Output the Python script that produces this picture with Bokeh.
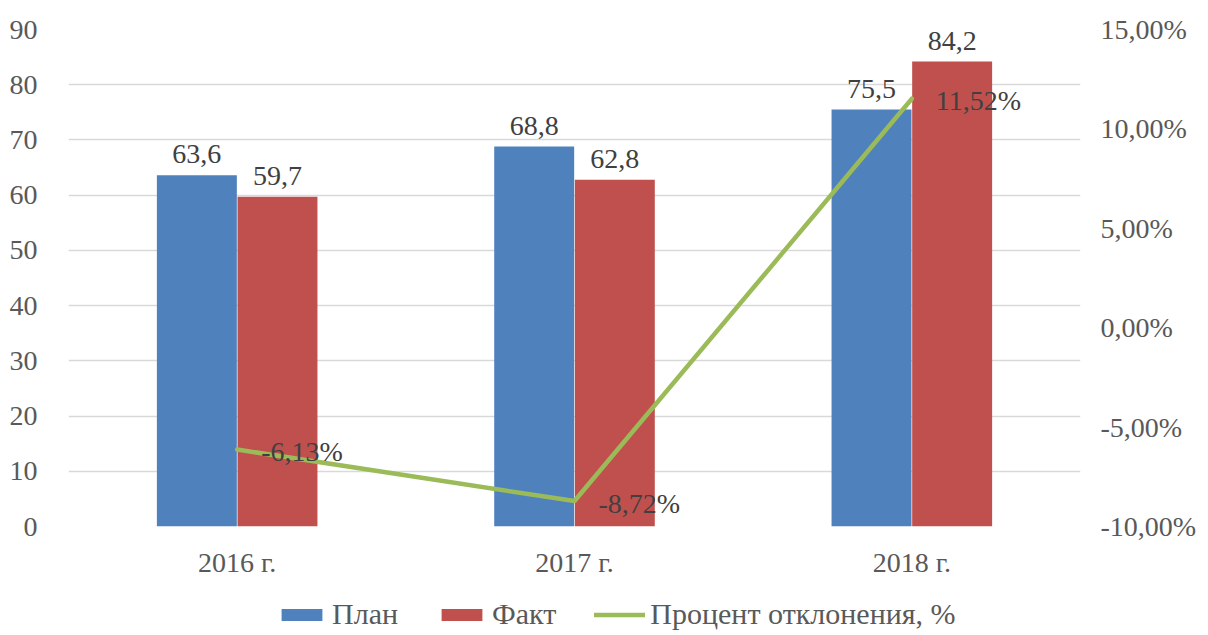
from bokeh.plotting import figure
from bokeh.models import (ColumnDataSource, FactorRange, Range1d, LinearAxis,
                          FixedTicker, CustomJSTickFormatter, Legend, LegendItem)
from bokeh.layouts import column
from bokeh.transform import dodge
from bokeh.core.properties import value
from bokeh.embed import file_html
from bokeh.resources import INLINE

categories = ["2016 г.", "2017 г.", "2018 г."]
plan = [63.6, 68.8, 75.5]
fact = [59.7, 62.8, 84.2]
deviation = [-6.13, -8.72, 11.52]
plan_labels = ["63,6", "68,8", "75,5"]
fact_labels = ["59,7", "62,8", "84,2"]
dev_labels = ["-6,13%", "-8,72%", "11,52%"]
left_ticks = [0, 10, 20, 30, 40, 50, 60, 70, 80, 90]
right_ticks = [-10, -5, 0, 5, 10, 15]
series_names = ["План", "Факт", "Процент отклонения, %"]

FONT = "Liberation Serif"
FS = "28px"
TICK_COLOR = "#595959"
LABEL_COLOR = "#404040"
BLUE = "#4F81BD"
RED = "#C0504D"
GREEN = "#9BBB59"
W = 1200

src = ColumnDataSource(dict(cat=categories, plan=plan, fact=fact, dev=deviation,
                            plan_lab=plan_labels, fact_lab=fact_labels, dev_lab=dev_labels))

p = figure(x_range=FactorRange(*categories), y_range=Range1d(0, 90),
           width=W, height=580, output_backend="svg", toolbar_location=None,
           min_border_left=68, min_border_top=29, min_border_right=120,
           min_border_bottom=53)
p.extra_y_ranges = {"pct": Range1d(-10, 15)}
p.outline_line_color = None
p.background_fill_color = "white"
p.border_fill_color = "white"

BW = 0.237
OFF = 0.1195
p.vbar(x=dodge("cat", -OFF, range=p.x_range), top="plan", width=BW,
       source=src, fill_color=BLUE, line_color=None)
p.vbar(x=dodge("cat", OFF, range=p.x_range), top="fact", width=BW,
       source=src, fill_color=RED, line_color=None)
p.line(x="cat", y="dev", source=src, y_range_name="pct",
       line_color=GREEN, line_width=4.5, line_cap="round", line_join="round")

p.text(x=dodge("cat", -OFF, range=p.x_range), y="plan", text="plan_lab", source=src,
       text_align="center", text_baseline="bottom", y_offset=-12,
       text_font=value(FONT), text_font_size=FS, text_color=LABEL_COLOR)
p.text(x=dodge("cat", OFF, range=p.x_range), y="fact", text="fact_lab", source=src,
       text_align="center", text_baseline="bottom", y_offset=-12,
       text_font=value(FONT), text_font_size=FS, text_color=LABEL_COLOR)
p.text(x="cat", y="dev", text="dev_lab", source=src, y_range_name="pct",
       text_align="left", text_baseline="middle", x_offset=24, y_offset=2,
       text_font=value(FONT), text_font_size=FS, text_color=LABEL_COLOR)

# left axis
ya = p.yaxis[0]
ya.ticker = FixedTicker(ticks=left_ticks)
ya.axis_line_color = None
ya.major_tick_line_color = None
ya.minor_tick_line_color = None
ya.major_label_standoff = 25
ya.major_label_text_font = FONT
ya.major_label_text_font_size = FS
ya.major_label_text_color = TICK_COLOR

# right axis
ra = LinearAxis(y_range_name="pct", ticker=FixedTicker(ticks=right_ticks),
                formatter=CustomJSTickFormatter(code="return tick.toFixed(2).replace('.', ',') + '%';"))
ra.axis_line_color = None
ra.major_tick_line_color = None
ra.minor_tick_line_color = None
ra.major_label_standoff = 14
ra.major_label_text_font = FONT
ra.major_label_text_font_size = FS
ra.major_label_text_color = TICK_COLOR
p.add_layout(ra, "right")

# x axis
xa = p.xaxis[0]
xa.axis_line_color = None
xa.major_tick_line_color = None
xa.minor_tick_line_color = None
xa.major_label_standoff = 14
xa.major_label_text_font = FONT
xa.major_label_text_font_size = FS
xa.major_label_text_color = TICK_COLOR

p.xgrid.grid_line_color = None
p.ygrid.grid_line_color = "#D9D9D9"
p.ygrid.grid_line_width = 1.5

# legend strip (key renderers are hidden; only the legend is shown)
lf = figure(width=W, height=51, x_range=FactorRange(*categories), y_range=Range1d(0, 1),
            output_backend="svg", toolbar_location=None, min_border=0)
lf.axis.visible = False
lf.grid.grid_line_color = None
lf.outline_line_color = None
k1 = lf.vbar(x="cat", top="plan", width=0.2, source=src, fill_color=BLUE, line_color=None, visible=False)
k2 = lf.vbar(x="cat", top="fact", width=0.2, source=src, fill_color=RED, line_color=None, visible=False)
k3 = lf.line(x="cat", y="dev", source=src, line_color=GREEN, line_width=4.5, line_cap="round", visible=False)

legend = Legend(items=[LegendItem(label=series_names[0], renderers=[k1]),
                       LegendItem(label=series_names[1], renderers=[k2]),
                       LegendItem(label=series_names[2], renderers=[k3])],
                orientation="horizontal", location=(208, 0),
                glyph_width=51, glyph_height=15, label_standoff=5, spacing=38,
                padding=0, margin=0, border_line_color=None, background_fill_alpha=0,
                inactive_fill_alpha=0,
                label_text_font=FONT, label_text_font_size="30px", label_text_color=TICK_COLOR)
lf.add_layout(legend, "center")

open("out.html", "w").write(file_html(column(p, lf, spacing=0), INLINE))
